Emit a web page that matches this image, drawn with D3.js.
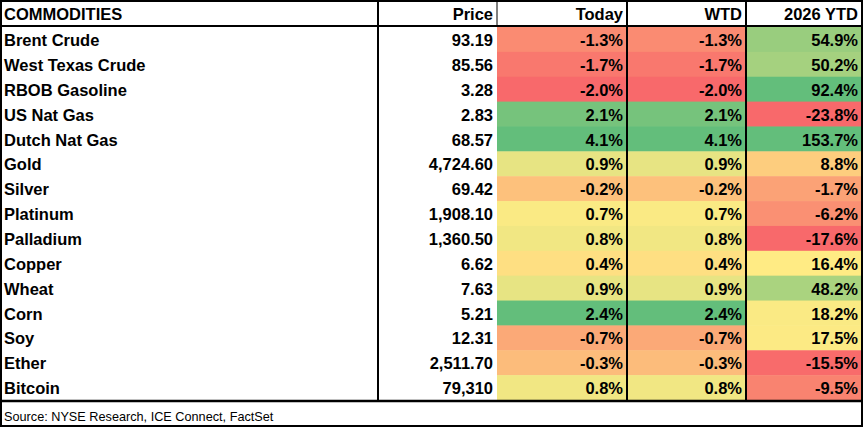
<!DOCTYPE html>
<html>
<head>
<meta charset="utf-8">
<script src="https://cdn.jsdelivr.net/npm/d3@7"></script>
<style>
  html, body { margin: 0; padding: 0; background: #fff; }
  svg { display: block; }
  text { font-family: "Liberation Sans", Arial, sans-serif; }
</style>
</head>
<body>
<div id="table"></div>
<script>
// table data
const headers = ["COMMODITIES", "Price", "Today", "WTD", "2026 YTD"];
const commodities = ["Brent Crude", "West Texas Crude", "RBOB Gasoline", "US Nat Gas", "Dutch Nat Gas",
  "Gold", "Silver", "Platinum", "Palladium", "Copper", "Wheat", "Corn", "Soy", "Ether", "Bitcoin"];
const prices = ["93.19", "85.56", "3.28", "2.83", "68.57", "4,724.60", "69.42", "1,908.10", "1,360.50",
  "6.62", "7.63", "5.21", "12.31", "2,511.70", "79,310"];
const today = [-1.3, -1.7, -2.0, 2.1, 4.1, 0.9, -0.2, 0.7, 0.8, 0.4, 0.9, 2.4, -0.7, -0.3, 0.8];
const wtd = [-1.3, -1.7, -2.0, 2.1, 4.1, 0.9, -0.2, 0.7, 0.8, 0.4, 0.9, 2.4, -0.7, -0.3, 0.8];
const ytd = [54.9, 50.2, 92.4, -23.8, 153.7, 8.8, -1.7, -6.2, -17.6, 16.4, 48.2, 18.2, 17.5, -15.5, -9.5];
const source = "Source: NYSE Research, ICE Connect, FactSet";

// colour scale stops (red / yellow / green), excel style
const dailyStops = [-2.0, 0.65, 2.3];
const ytdStops = [-16, 16.4, 75];
const stopColors = ["#F8696B", "#FFEB84", "#63BE7B"];

const width = 864;
const height = 429;
const colEdges = [1, 378, 497, 627, 746, 862];
const headerTop = 1, headerBottom = 26;
const bodyTop = 27, bodyBottom = 400;
const footerBottom = 426;
const fontSize = "16.5px";

const svg = d3.select("#table")
  .append("svg")
  .attr("width", width)
  .attr("height", height);

const y = d3.scaleBand()
  .domain(commodities)
  .range([bodyTop, bodyBottom]);

const dailyColor = d3.scaleLinear().domain(dailyStops).range(stopColors).clamp(true);
const ytdColor = d3.scaleLinear().domain(ytdStops).range(stopColors).clamp(true);

const fmt = v => v.toFixed(1) + "%";

// coloured cells
const pctCols = [
  { values: today, col: 2, color: dailyColor },
  { values: wtd, col: 3, color: dailyColor },
  { values: ytd, col: 4, color: ytdColor }
];

pctCols.forEach(c => {
  svg.append("g").selectAll("rect")
    .data(c.values)
    .enter()
    .append("rect")
    .attr("x", colEdges[c.col])
    .attr("y", (d, i) => y(commodities[i]))
    .attr("width", colEdges[c.col + 1] - colEdges[c.col])
    .attr("height", y.bandwidth() + 0.5)
    .attr("fill", d => c.color(d));
});

// header text
svg.append("g").selectAll("text")
  .data(headers)
  .enter()
  .append("text")
  .attr("x", (d, i) => i === 0 ? colEdges[0] + 3 : colEdges[i + 1] - 4)
  .attr("y", (headerTop + headerBottom) / 2)
  .attr("dy", "0.4em")
  .attr("text-anchor", (d, i) => i === 0 ? "start" : "end")
  .style("font-size", fontSize)
  .style("font-weight", "bold")
  .attr("fill", "#000")
  .text(d => d);

// body text
const rowCenter = name => y(name) + y.bandwidth() / 2;

svg.append("g").selectAll("text")
  .data(commodities)
  .enter()
  .append("text")
  .attr("x", colEdges[0] + 3)
  .attr("y", d => rowCenter(d))
  .attr("dy", "0.4em")
  .style("font-size", fontSize)
  .style("font-weight", "bold")
  .text(d => d);

svg.append("g").selectAll("text")
  .data(prices)
  .enter()
  .append("text")
  .attr("x", colEdges[2] - 4)
  .attr("y", (d, i) => rowCenter(commodities[i]))
  .attr("dy", "0.4em")
  .attr("text-anchor", "end")
  .style("font-size", fontSize)
  .style("font-weight", "bold")
  .text(d => d);

pctCols.forEach(c => {
  svg.append("g").selectAll("text")
    .data(c.values)
    .enter()
    .append("text")
    .attr("x", colEdges[c.col + 1] - 4)
    .attr("y", (d, i) => rowCenter(commodities[i]))
    .attr("dy", "0.4em")
    .attr("text-anchor", "end")
    .style("font-size", fontSize)
    .style("font-weight", "bold")
    .text(d => fmt(d));
});

// source line
svg.append("text")
  .attr("x", colEdges[0] + 3)
  .attr("y", 416)
  .attr("dy", "0.36em")
  .style("font-size", "12.7px")
  .text(source);

// grid lines
const line = (x1, y1, x2, y2, w) => svg.append("line")
  .attr("x1", x1).attr("y1", y1).attr("x2", x2).attr("y2", y2)
  .attr("stroke", "#000")
  .attr("stroke-width", w);

line(colEdges[0], headerBottom, colEdges[5], headerBottom, 2);
line(colEdges[0], bodyBottom + 1, colEdges[5], bodyBottom + 1, 2.5);
line(colEdges[1], headerTop, colEdges[1], bodyBottom, 2);
line(colEdges[2], headerTop, colEdges[2], headerBottom, 1);
line(colEdges[3], headerTop, colEdges[3], bodyBottom, 2);
line(colEdges[4], headerTop, colEdges[4], bodyBottom, 2);

// outer border
svg.append("rect")
  .attr("x", colEdges[0])
  .attr("y", headerTop)
  .attr("width", colEdges[5] - colEdges[0])
  .attr("height", footerBottom - headerTop)
  .attr("fill", "none")
  .attr("stroke", "#000")
  .attr("stroke-width", 2);
</script>
</body>
</html>
